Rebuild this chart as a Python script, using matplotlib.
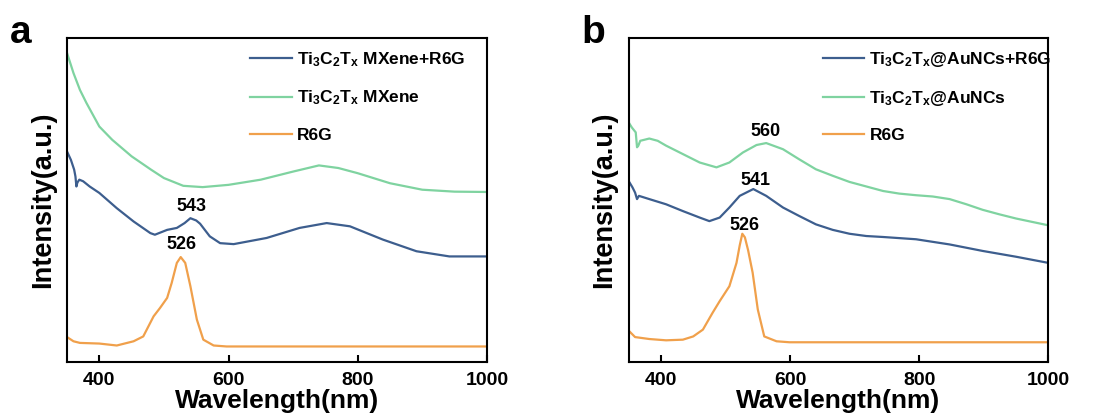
import numpy as np
import matplotlib
matplotlib.use('Agg')
import matplotlib.pyplot as plt

plt.rcParams['font.family'] = ['Liberation Sans', 'DejaVu Sans']
plt.rcParams['font.weight'] = 'bold'
plt.rcParams['mathtext.fontset'] = 'custom'
plt.rcParams['mathtext.rm'] = 'Liberation Sans:bold'
plt.rcParams['mathtext.it'] = 'Liberation Sans:bold'
plt.rcParams['mathtext.bf'] = 'Liberation Sans:bold'
plt.rcParams['mathtext.default'] = 'rm'

# colours of the three spectra
c_blue = '#3d5e8e'
c_green = '#7fd3a0'
c_orange = '#f0a04b'

# ---- panel a : Ti3C2Tx MXene ----
a_mix_x = [350, 356, 361, 363, 364.5, 366, 369, 375, 385, 400, 427, 453, 479, 486,
           505, 520, 532, 541, 550, 556, 571, 587, 608, 659, 710, 752, 788, 839,
           891, 942, 1000]
a_mix_y = [0.650, 0.624, 0.594, 0.573, 0.542, 0.554, 0.563, 0.558, 0.542, 0.522,
           0.475, 0.434, 0.398, 0.393, 0.408, 0.414, 0.429, 0.444, 0.437, 0.427,
           0.388, 0.367, 0.364, 0.383, 0.414, 0.429, 0.419, 0.378, 0.342, 0.326,
           0.326]

a_mx_x = [350, 360, 370, 380, 400, 420, 450, 480, 500, 530, 560, 600, 650, 700,
          740, 770, 800, 850, 900, 950, 1000]
a_mx_y = [0.954, 0.892, 0.840, 0.800, 0.727, 0.686, 0.635, 0.594, 0.568, 0.544,
          0.540, 0.547, 0.563, 0.588, 0.607, 0.599, 0.583, 0.552, 0.532, 0.526,
          0.525]

a_r6g_x = [350, 360, 370, 400, 427, 453, 468, 484, 494, 505, 512, 520, 526, 533,
           541, 551, 561, 577, 597, 700, 1000]
a_r6g_y = [0.077, 0.064, 0.059, 0.057, 0.051, 0.064, 0.079, 0.141, 0.167, 0.198,
           0.244, 0.306, 0.324, 0.306, 0.234, 0.131, 0.069, 0.051, 0.048, 0.048,
           0.048]

# ---- panel b : Ti3C2Tx@AuNCs ----
b_mix_x = [350, 356, 360, 363, 366, 382, 408, 434, 460, 475, 491, 506, 522, 543,
           563, 589, 614, 640, 666, 692, 718, 744, 795, 847, 898, 950, 1000]
b_mix_y = [0.559, 0.539, 0.523, 0.503, 0.513, 0.503, 0.487, 0.466, 0.446, 0.435,
           0.446, 0.477, 0.513, 0.534, 0.513, 0.477, 0.451, 0.425, 0.408, 0.396,
           0.389, 0.386, 0.379, 0.363, 0.343, 0.325, 0.306]

b_au_x = [350, 355, 361, 363, 365, 368, 382, 395, 408, 434, 460, 486, 506, 527,
          548, 563, 589, 614, 640, 666, 692, 718, 744, 769, 795, 821, 847, 873,
          898, 924, 950, 1000]
b_au_y = [0.740, 0.724, 0.709, 0.663, 0.668, 0.683, 0.690, 0.683, 0.668, 0.642,
          0.616, 0.601, 0.616, 0.647, 0.670, 0.676, 0.657, 0.626, 0.595, 0.575,
          0.556, 0.542, 0.528, 0.520, 0.515, 0.511, 0.503, 0.487, 0.470, 0.456,
          0.443, 0.422]

b_r6g_x = [350, 360, 382, 408, 434, 450, 465, 480, 491, 506, 517, 522, 526, 530,
           535, 542, 550, 560, 579, 599, 1000]
b_r6g_y = [0.097, 0.077, 0.071, 0.067, 0.069, 0.079, 0.100, 0.152, 0.188, 0.234,
           0.306, 0.360, 0.396, 0.385, 0.345, 0.276, 0.162, 0.079, 0.064, 0.061,
           0.061]

# peak labels: (text, x, y)
a_peaks = [('543', 543, 0.48), ('526', 527, 0.362)]
b_peaks = [('560', 562, 0.711), ('541', 546, 0.559), ('526', 530, 0.422)]

tx = r'Ti$_3$C$_2$T$_x$'
a_labels = [tx + ' MXene+R6G', tx + ' MXene', 'R6G']
b_labels = [tx + '@AuNCs+R6G', tx + '@AuNCs', 'R6G']

fig = plt.figure(figsize=(10.99, 4.19), dpi=100)
ax1 = fig.add_axes([0.061, 0.136, 0.382, 0.773])
ax2 = fig.add_axes([0.572, 0.136, 0.382, 0.773])


def draw(ax, series, labels, peaks, leg_x):
    for (x, y), col, lab in zip(series, [c_blue, c_green, c_orange], labels):
        ax.plot(x, y, color=col, lw=1.6, label=lab)
    for t, px, py in peaks:
        ax.text(px, py, t, ha='center', va='center', fontsize=13, fontweight='bold')
    ax.set_xlim(350, 1000)
    ax.set_ylim(0, 1)
    ax.set_xticks([400, 600, 800, 1000])
    ax.set_yticks([])
    ax.tick_params(axis='x', direction='in', length=5, width=1.5, labelsize=14, pad=7)
    for s in ax.spines.values():
        s.set_linewidth(1.5)
    ax.set_xlabel('Wavelength(nm)', fontsize=19, fontweight='bold', labelpad=0)
    ax.set_ylabel('Intensity(a.u.)', fontsize=19.5, fontweight='bold', labelpad=8)
    ax.legend(loc='upper left', bbox_to_anchor=(leg_x, 0.963), frameon=False,
              fontsize=12.5, handlelength=2.4, labelspacing=1.15,
              handletextpad=0.3, borderpad=0, borderaxespad=0)


draw(ax1, [(a_mix_x, a_mix_y), (a_mx_x, a_mx_y), (a_r6g_x, a_r6g_y)],
     a_labels, a_peaks, 0.436)
draw(ax2, [(b_mix_x, b_mix_y), (b_au_x, b_au_y), (b_r6g_x, b_r6g_y)],
     b_labels, b_peaks, 0.462)

fig.text(0.009, 0.965, 'a', fontsize=28, fontweight='bold', va='top')
fig.text(0.529, 0.965, 'b', fontsize=28, fontweight='bold', va='top')

fig.savefig('out.png', dpi=100)
